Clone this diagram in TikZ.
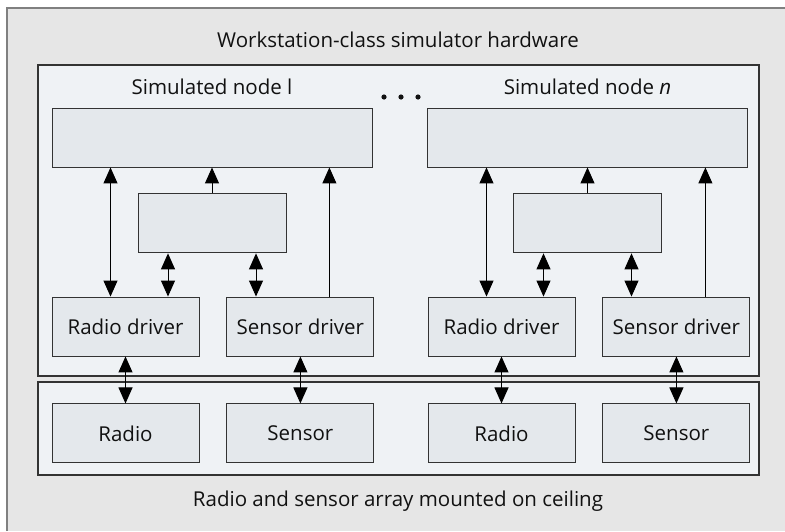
\documentclass[tikz,border=0pt]{standalone}
\usepackage{fontspec}
\setmainfont{Open Sans}
\usetikzlibrary{arrows.meta, positioning}
\definecolor{hwgray}{HTML}{E6E6E6}
\definecolor{hwline}{HTML}{808080}
\definecolor{framefill}{HTML}{EFF2F5}
\definecolor{boxfill}{HTML}{E4E8EC}
\definecolor{boxline}{HTML}{333333}
\definecolor{textdark}{HTML}{111111}

\begin{document}
\begin{tikzpicture}[x=1pt, y=-1pt,
    frame/.style={rectangle, draw=boxline, fill=framefill, line width=1.1pt,
                  minimum width=721pt, inner sep=0pt},
    box/.style={rectangle, draw=boxline, fill=boxfill, line width=0.9pt,
                minimum height=59pt, inner sep=0pt, text=textdark,
                font=\fontsize{20.5}{24}\selectfont},
    wide/.style={box, minimum width=320pt},
    small/.style={box, minimum width=147pt},
    lbl/.style={inner sep=0pt, text=textdark, font=\fontsize{20.5}{24}\selectfont},
    arr/.style={-{Triangle[width=14pt,length=16pt]}, line width=1pt},
    both/.style={{Triangle[width=14pt,length=16pt]}-{Triangle[width=14pt,length=16pt]},
                 line width=1pt}
  ]
    \useasboundingbox (0,0) rectangle (785,531);
    \fill[hwgray] (7,8) rectangle (785,531);
    \draw[hwline, line width=2pt] (7,531) -- (7,8) -- (785,8);

    \node[lbl, anchor=base] (hwtitle) at (398,47) {Workstation-class simulator hardware};
    \node[frame, minimum height=311pt] (sim) at (398.5,220.5) {};
    \node[frame, minimum height=93pt] (array) at (398.5,428.5) {};
    \node[lbl, anchor=base] (arraytitle) at (398,506) {Radio and sensor array mounted on ceiling};

    % simulated node l
    \node[wide] (host1) at (212,137.5) {};
    \node[lbl, above=13pt of host1] (name1) {Simulated node l};
    \node[box, minimum width=148pt, below=26pt of host1] (mid1) {};
    \node[small] (rd1) at (125.5,326.5) {Radio driver};
    \node[small, right=27pt of rd1] (sd1) {Sensor driver};
    \node[small, below=47pt of rd1] (radio1) {Radio};
    \node[small, below=47pt of sd1] (sensor1) {Sensor};

    \draw[both] ([xshift=-15pt]rd1.north) -- ([xshift=-15pt]rd1.north |- host1.south);
    \draw[arr] (mid1) -- (host1);
    \draw[arr] ([xshift=29pt]sd1.north) -- ([xshift=29pt]sd1.north |- host1.south);
    \draw[both] ([xshift=-44pt]mid1.south) -- ([xshift=-44pt]mid1.south |- rd1.north);
    \draw[both] ([xshift=44pt]mid1.south) -- ([xshift=44pt]mid1.south |- sd1.north);
    \draw[both] (rd1) -- (radio1);
    \draw[both] (sd1) -- (sensor1);

    % simulated node n
    \node[wide] (host2) at (587.5,137.5) {};
    \node[lbl, above=13pt of host2] (name2) {Simulated node \textit{n}};
    \node[box, minimum width=148pt, below=26pt of host2] (mid2) {};
    \node[small] (rd2) at (501.5,326.5) {Radio driver};
    \node[small, right=27pt of rd2] (sd2) {Sensor driver};
    \node[small, below=47pt of rd2] (radio2) {Radio};
    \node[small, below=47pt of sd2] (sensor2) {Sensor};

    \draw[both] ([xshift=-15pt]rd2.north) -- ([xshift=-15pt]rd2.north |- host2.south);
    \draw[arr] (mid2) -- (host2);
    \draw[arr] ([xshift=29pt]sd2.north) -- ([xshift=29pt]sd2.north |- host2.south);
    \draw[both] ([xshift=-44pt]mid2.south) -- ([xshift=-44pt]mid2.south |- rd2.north);
    \draw[both] ([xshift=44pt]mid2.south) -- ([xshift=44pt]mid2.south |- sd2.north);
    \draw[both] (rd2) -- (radio2);
    \draw[both] (sd2) -- (sensor2);

    % dots between the nodes
    \foreach \x in {384,401,418}
      \fill[textdark] (\x,97) circle (2.6);
  \end{tikzpicture}
\end{document}
